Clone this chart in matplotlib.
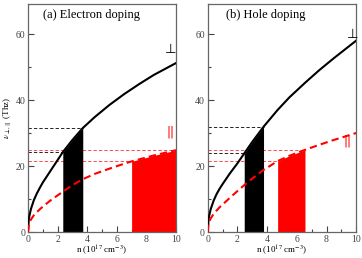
import numpy as np
import matplotlib
matplotlib.use("Agg")
from matplotlib import pyplot as plt
from matplotlib.ticker import MultipleLocator

plt.rcParams['font.family'] = ['Liberation Serif', 'DejaVu Serif']
plt.rcParams['mathtext.fontset'] = 'stix'

# (a) electron doping, n in 1e17 cm^-3
n_a = [0, 0.05, 0.1, 0.2, 0.4, 0.6, 0.8, 1.0, 1.5, 2.0, 2.35, 3.0, 3.7, 4.5, 5.5, 6.5, 7.0, 7.5, 8.5, 10]
perp_a = [0, 3.6, 5.0, 7.0, 9.7, 11.7, 13.4, 15.0, 18.4, 21.8, 24.2, 27.9, 31.5, 34.8, 38.5, 41.8, 43.3, 44.8, 47.6, 51.2]
par_a = [0, 2.0, 2.8, 3.8, 5.1, 6.0, 6.9, 7.7, 9.5, 11.1, 12.2, 14.2, 16.0, 17.6, 19.2, 20.7, 21.4, 22.0, 23.2, 24.8]
perp_win_a = (2.35, 3.7)
par_win_a = (7.0, 10.0)

# (b) hole doping
n_b = [0, 0.05, 0.1, 0.2, 0.4, 0.6, 0.8, 1.0, 1.5, 2.0, 2.46, 3.0, 3.76, 4.71, 5.5, 6.55, 7.5, 8.5, 10]
perp_b = [0, 3.5, 4.9, 6.9, 9.5, 11.5, 13.1, 14.5, 17.8, 20.8, 23.8, 27.3, 31.9, 37.0, 40.8, 45.2, 49.0, 52.7, 58.0]
par_b = [0, 2.2, 3.0, 4.1, 5.5, 6.5, 7.5, 8.3, 10.4, 12.4, 14.2, 16.2, 18.8, 21.5, 23.1, 24.9, 26.4, 27.9, 30.0]
perp_win_b = (2.46, 3.76)
par_win_b = (4.71, 6.55)

titles = ["(a) Electron doping", "(b) Hole doping"]

fig = plt.figure(figsize=(3.62, 2.58), dpi=100)
ax1 = fig.add_axes([28/362, 1-232/258, 148/362, 228/258])
ax2 = fig.add_axes([207.7/362, 1-232/258, 148.5/362, 228/258])

panels = [(ax1, n_a, perp_a, par_a, perp_win_a, par_win_a, titles[0], 1.0, (9.28, 55.4), (9.38, 30.2)),
          (ax2, n_b, perp_b, par_b, perp_win_b, par_win_b, titles[1], 1.23, (9.36, 59.9), (9.13, 27.7))]

for ax, n, perp, par, pw, qw, title, tx, perp_pos, par_pos in panels:
    n = np.array(n)
    perp = np.array(perp)
    par = np.array(par)
    m1 = (n >= pw[0]) & (n <= pw[1])
    m2 = (n >= qw[0]) & (n <= qw[1])
    ax.fill_between(n, perp, where=m1, color='black', lw=0, zorder=2)
    ax.fill_between(n, par, where=m2, color='red', lw=0, zorder=2)
    ax.plot(n, perp, color='black', lw=1.5, zorder=3)
    ax.plot(n, par, color='red', lw=1.5, dashes=(3.5, 2), zorder=3)
    # guide lines at the window edges
    for x in pw:
        y = np.interp(x, n, perp)
        ax.plot([0, x], [y, y], color='black', lw=0.6, dashes=(4, 2.5), zorder=1)
    for x in qw:
        y = np.interp(x, n, par)
        ax.plot([0, x], [y, y], color='#ff3030', lw=0.6, dashes=(4, 2.5), zorder=1)

    ax.set_xlim(0, 10)
    ax.set_ylim(0, 69.1)
    ax.xaxis.set_major_locator(MultipleLocator(2))
    ax.xaxis.set_minor_locator(MultipleLocator(1))
    ax.yaxis.set_major_locator(MultipleLocator(20))
    ax.yaxis.set_minor_locator(MultipleLocator(10))
    ax.tick_params(which='both', direction='in', top=False, right=False,
                   labelsize=7, colors='#444444', pad=2)
    ax.tick_params(which='major', length=4, width=0.8)
    ax.tick_params(which='minor', length=2, width=0.8)
    for s in ax.spines.values():
        s.set_color('#666666')
        s.set_linewidth(0.9)
    ax.text(tx, 65.8, title, fontsize=9, va='center', ha='left')
    ax.text(perp_pos[0], perp_pos[1], '\u22a5', fontsize=9.5, ha='left', va='center',
            family=['DejaVu Sans'])
    ax.text(par_pos[0], par_pos[1], '||', fontsize=8.5, ha='left', va='center', color='red',
            family=['DejaVu Sans'])
    ax.set_xlabel(r'n (10$^{17}$ cm$^{-3}$)', fontsize=6.5, labelpad=0)

ax1.set_ylabel(r'$\nu_{\perp,\parallel}$ (Thz)', fontsize=6.5, labelpad=1)

fig.savefig('out.png', dpi=100)
